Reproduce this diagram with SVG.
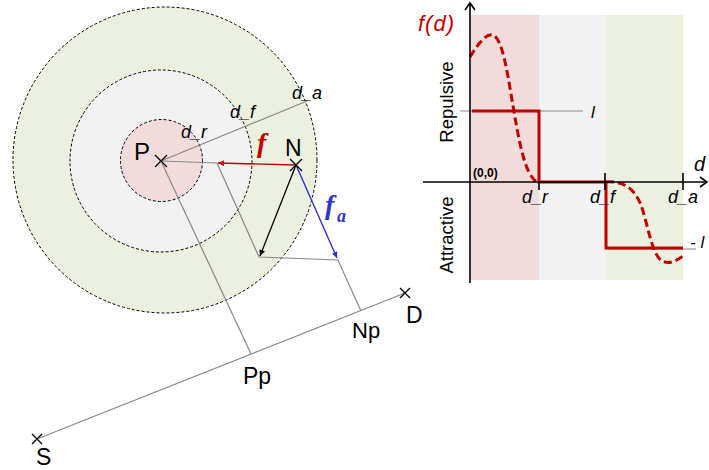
<svg xmlns="http://www.w3.org/2000/svg" width="709" height="470" viewBox="0 0 709 470">
<defs>
<style>
.zone{stroke:#000;stroke-width:1;stroke-dasharray:3 2}
.gl{stroke:#888;stroke-width:1.2;fill:none}
.cross{stroke:#000;stroke-width:1.3;fill:none}
.lbl{font-family:"Liberation Sans",Arial,sans-serif}
.it{font-style:italic}
.vec{font-family:"Liberation Serif","Times New Roman",serif;font-style:italic;font-weight:bold}
.ax{stroke:#000;stroke-width:1.6;fill:none}
</style>
<marker id="ah-red" viewBox="0 0 10 10" refX="10" refY="5" markerWidth="8" markerHeight="6" orient="auto" markerUnits="userSpaceOnUse"><path d="M0,0 L10,5 L0,10 z" fill="#c00000"/></marker>
<marker id="ah-black" viewBox="0 0 10 10" refX="10" refY="5" markerWidth="8" markerHeight="6" orient="auto" markerUnits="userSpaceOnUse"><path d="M0,0 L10,5 L0,10 z" fill="#000"/></marker>
<marker id="ah-blue" viewBox="0 0 10 10" refX="10" refY="5" markerWidth="8" markerHeight="6" orient="auto" markerUnits="userSpaceOnUse"><path d="M0,0 L10,5 L0,10 z" fill="#3333cc"/></marker>
</defs>
<rect width="709" height="470" fill="#fff"/>

<g id="zones">
<ellipse cx="165" cy="160" rx="152" ry="153" fill="#ebf1de" class="zone"/>
<circle cx="161" cy="161" r="91" fill="#f2f2f2" class="zone"/>
<circle cx="161.5" cy="160.5" r="41" fill="#f2dcdb" class="zone"/>
</g>

<g id="connectors">
<line class="gl" x1="161" y1="161" x2="307" y2="101"/>
<line class="gl" x1="161" y1="161" x2="217" y2="163"/>
<polyline class="gl" points="217,163 259,257 338,260 361,311"/>
<line class="gl" x1="161" y1="161" x2="251" y2="354"/>
<line class="gl" x1="37" y1="439" x2="405" y2="293"/>
<line x1="296" y1="165" x2="218" y2="163" stroke="#c00000" stroke-width="1.4" marker-end="url(#ah-red)"/>
<line x1="296" y1="165" x2="260" y2="256" stroke="#000" stroke-width="1.3" marker-end="url(#ah-black)"/>
<line x1="296" y1="165" x2="337" y2="258" stroke="#3333cc" stroke-width="1.4" marker-end="url(#ah-blue)"/>
</g>

<g id="radius-labels" class="lbl it" font-size="18" fill="#000">
<text x="181" y="138">d_r</text>
<text x="230" y="118">d_f</text>
<text x="292" y="99">d_a</text>
</g>

<g id="node-P">
<path class="cross" d="M155,155 L167,167 M167,155 L155,167"/>
<text class="lbl" x="134" y="160" font-size="24" fill="#000">P</text>
</g>
<g id="node-N">
<path class="cross" d="M290,159 L302,171 M302,159 L290,171"/>
<text class="lbl" x="285" y="156" font-size="23" fill="#000">N</text>
</g>
<g id="node-S">
<path class="cross" d="M32,434 L42,444 M42,434 L32,444"/>
<text class="lbl" x="36" y="465" font-size="23" fill="#000">S</text>
</g>
<g id="node-D">
<path class="cross" d="M400,288 L410,298 M410,288 L400,298"/>
<text class="lbl" x="406" y="323" font-size="23" fill="#000">D</text>
</g>
<g id="node-Pp">
<text class="lbl" x="243" y="384" font-size="23" fill="#000">Pp</text>
</g>
<g id="node-Np">
<text class="lbl" x="352" y="338" font-size="22" fill="#000">Np</text>
</g>

<g id="vector-labels">
<text class="vec" x="257" y="152" font-size="28" fill="#c00000">f</text>
<text class="vec" x="325" y="214" font-size="28" fill="#3333cc">f</text>
<text class="vec" x="337" y="222" font-size="18" fill="#3333cc">a</text>
</g>

<g id="graph">
<rect x="471" y="15" width="68" height="265" fill="#f2dcdb"/>
<rect x="539" y="15" width="67" height="265" fill="#f2f2f2"/>
<rect x="606" y="15" width="77" height="265" fill="#ebf1de"/>
<line class="gl" x1="460" y1="111" x2="583" y2="111"/>
<line class="gl" x1="606" y1="249" x2="696" y2="249"/>
<path d="M470,57 C478,44 486,33 493,35 C502,38 507,70 512,100 C518,135 524,175 537,182" fill="none" stroke="#c00000" stroke-width="3" stroke-dasharray="8 4"/>
<path d="M606,182 C620,181 633,185 641,205 C648,225 652,255 662,261 C670,265 677,260 683,256" fill="none" stroke="#c00000" stroke-width="3" stroke-dasharray="8 4"/>
<path d="M472,111 H539 V182 H606 V248 H683" fill="none" stroke="#c00000" stroke-width="3"/>
<line class="ax" x1="470" y1="3" x2="470" y2="283"/>
<path class="ax" d="M465,10 L470,3 L475,10"/>
<line class="ax" x1="423" y1="182" x2="707" y2="182"/>
<path class="ax" d="M700,177 L707,182 L700,187"/>
<line class="ax" x1="605" y1="173" x2="605" y2="190"/>
<line class="ax" x1="683" y1="173" x2="683" y2="190"/>
<line class="ax" x1="539" y1="182" x2="539" y2="190"/>
<text class="lbl it" x="418" y="31" font-size="22" fill="#c00000" letter-spacing="1">f(d)</text>
<g class="lbl" font-size="18.5" fill="#000">
<text transform="translate(453,102) rotate(-90)" text-anchor="middle">Repulsive</text>
<text transform="translate(453,235) rotate(-90)" text-anchor="middle">Attractive</text>
</g>
<text class="lbl" x="473" y="177" font-size="12" font-weight="bold" fill="#000">(0,0)</text>
<g class="lbl it" fill="#000">
<text x="591" y="118" font-size="17">l</text>
<text x="690" y="248" font-size="17">- l</text>
<text x="694" y="171" font-size="20">d</text>
<text x="522" y="203" font-size="18">d_r</text>
<text x="590" y="203" font-size="18">d_f</text>
<text x="668" y="203" font-size="18">d_a</text>
</g>
</g>
</svg>
